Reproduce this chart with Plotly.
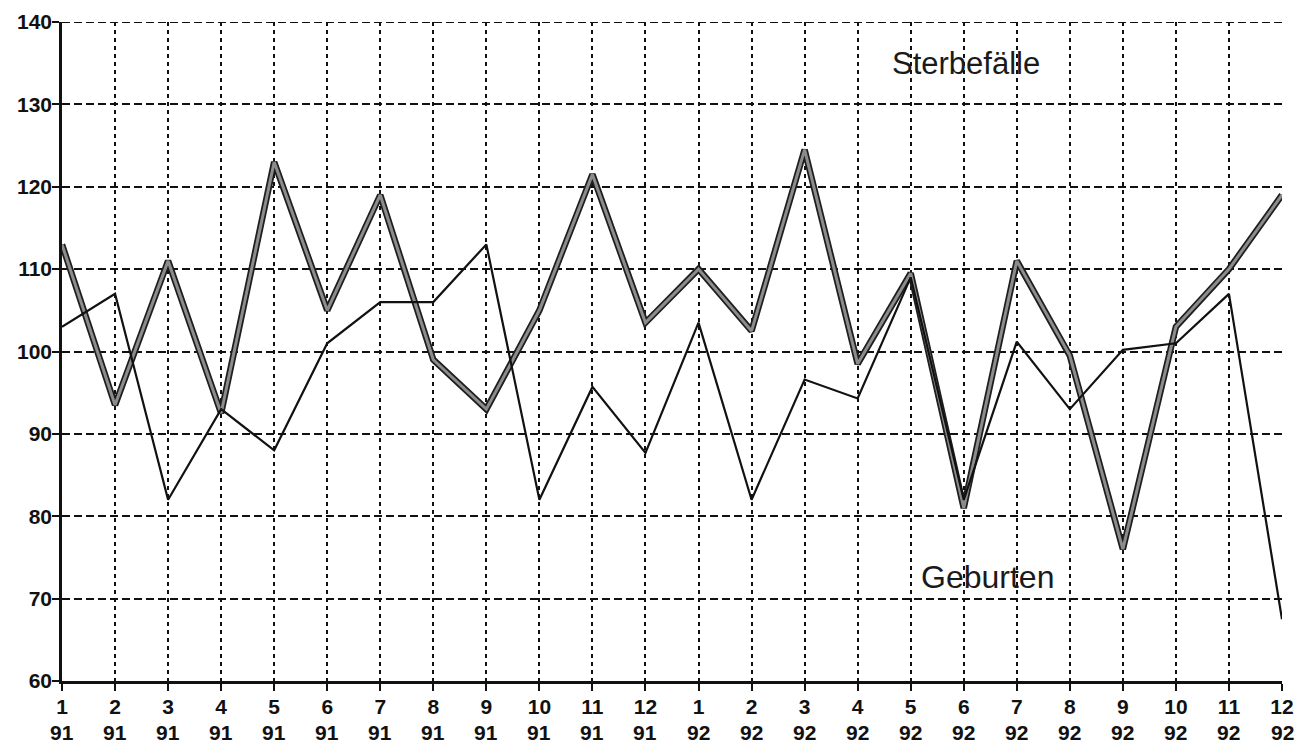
import plotly.graph_objects as go

months = ["1", "2", "3", "4", "5", "6", "7", "8", "9", "10", "11", "12",
          "1", "2", "3", "4", "5", "6", "7", "8", "9", "10", "11", "12"]
years = ["91"] * 12 + ["92"] * 12

sterbefaelle = [113, 93.5, 111, 92.5, 123, 105, 119, 99, 93, 105, 121.5, 103.5,
                110, 102.5, 124.5, 98.5, 109.5, 81, 111, 99.5, 76, 103, 110, 119]
geburten = [103, 107, 82, 93, 88, 101, 106, 106, 113, 82, 95.7, 87.7,
            103.5, 82, 96.6, 94.3, 109, 82, 101.2, 93, 100.2, 101, 107, 67.5]
y_ticks = [60, 70, 80, 90, 100, 110, 120, 130, 140]

x = list(range(len(months)))
FONT = "Arial, Liberation Sans, sans-serif"

fig = go.Figure()
# Thick line (Sterbefälle): dark outline with grey core
fig.add_trace(go.Scatter(x=x, y=sterbefaelle, mode="lines",
                         line=dict(color="#1e1e1e", width=6.5), hoverinfo="skip",
                         showlegend=False))
fig.add_trace(go.Scatter(x=x, y=sterbefaelle, mode="lines",
                         line=dict(color="#8c8c8c", width=3), name="Sterbefälle",
                         showlegend=False))
# Thin line (Geburten)
fig.add_trace(go.Scatter(x=x, y=geburten, mode="lines",
                         line=dict(color="#111111", width=2.2), name="Geburten",
                         showlegend=False))

# Dashed top frame line at the top grid value
fig.add_hline(y=y_ticks[-1], line=dict(color="#111", width=2, dash="8px,4px"),
              layer="below")

fig.add_annotation(x=17.05, y=135.0, text="Sterbefälle", showarrow=False,
                   font=dict(family=FONT, size=31, color="#1a1a1a"))
fig.add_annotation(x=17.45, y=72.6, text="Geburten", showarrow=False,
                   font=dict(family=FONT, size=32, color="#1a1a1a"))

# Year row below the month tick labels
for xi, yr in zip(x, years):
    fig.add_annotation(x=xi, y=0, xref="x", yref="paper", yanchor="middle",
                       yshift=-51, text=yr, showarrow=False,
                       font=dict(family=FONT, size=21, color="#111", weight="bold"))

fig.update_layout(
    width=1308, height=754,
    margin=dict(l=54, r=34, t=14, b=81, autoexpand=False),
    plot_bgcolor="white", paper_bgcolor="white",
    font=dict(family=FONT, color="#111"),
)
fig.update_xaxes(
    range=[0, 23], tickmode="array", tickvals=x, ticktext=months,
    showgrid=True, gridcolor="#111", griddash="4px,4px", gridwidth=2,
    showline=True, linecolor="#111", linewidth=2.5,
    ticks="outside", ticklen=7, tickcolor="#111", tickwidth=2,
    tickfont=dict(size=21, family=FONT, weight="bold"),
    ticklabelstandoff=-2, ticklabeloverflow="allow",
    zeroline=False, automargin=False,
)
fig.update_yaxes(
    range=[60, 140], tickmode="array", tickvals=y_ticks,
    showgrid=True, gridcolor="#111", griddash="8px,4px", gridwidth=2,
    showline=True, linecolor="#111", linewidth=2.5,
    ticks="outside", ticklen=7, tickcolor="#111", tickwidth=2,
    tickfont=dict(size=21, family=FONT, weight="bold"),
    ticklabelstandoff=-4, ticklabeloverflow="allow",
    zeroline=False, automargin=False,
)

fig.write_html("out.html")
